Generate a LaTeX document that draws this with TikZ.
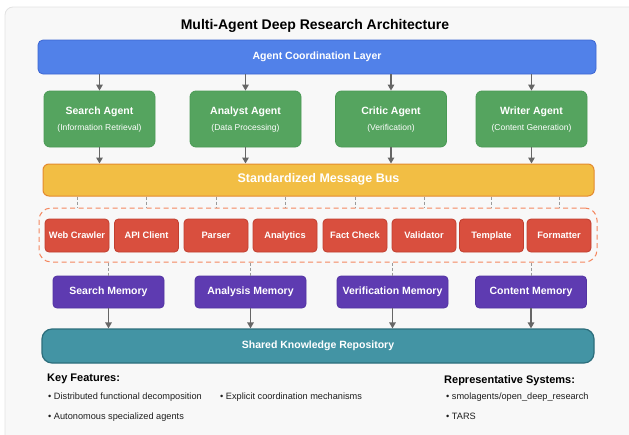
\documentclass[tikz,border=0pt]{standalone}
\usepackage{fontspec}
\setmainfont{Liberation Sans}
\usetikzlibrary{arrows.meta}

\definecolor{panelbg}{HTML}{F8F8F8}
\definecolor{panelline}{HTML}{E2E2E2}
\definecolor{cBlue}{HTML}{5181E9}
\definecolor{cBlueD}{HTML}{3C66D2}
\definecolor{cGreen}{HTML}{55A45F}
\definecolor{cGreenD}{HTML}{4A9A55}
\definecolor{cYellow}{HTML}{F2BE44}
\definecolor{cOrange}{HTML}{E48A2E}
\definecolor{cRed}{HTML}{D94F3E}
\definecolor{cRedD}{HTML}{C13F2F}
\definecolor{cSalmon}{HTML}{F4875F}
\definecolor{cPurple}{HTML}{5E3BB1}
\definecolor{cPurpleD}{HTML}{5233A2}
\definecolor{cTeal}{HTML}{4394A4}
\definecolor{cTealD}{HTML}{2C6E7C}
\definecolor{cArrow}{HTML}{666666}
\definecolor{cLink}{HTML}{9A9A9A}
\definecolor{cText}{HTML}{1E1E1E}

\newcommand{\fsz}[1]{\fontsize{#1}{#1}\selectfont}

\begin{document}
\begin{tikzpicture}[x=1pt,y=-1pt,
  box/.style={draw, line width=0.8pt, inner sep=0pt, text=white,
    text height=0.72em, text depth=0.2em, font=\bfseries\fsz{10.5}},
  coordbox/.style={box, fill=cBlue, draw=cBlueD, minimum width=558pt,
    minimum height=34pt, rounded corners=5pt},
  agentbox/.style={box, fill=cGreen, draw=cGreenD, minimum width=111pt,
    minimum height=56pt, rounded corners=6pt},
  agenttitle/.style={inner sep=0pt, text=white, text height=0.72em,
    text depth=0.2em, font=\bfseries\fsz{10.5}},
  agentsub/.style={inner sep=0pt, text=white, text height=0.72em,
    text depth=0.2em, font=\fsz{8.5}},
  busbox/.style={box, fill=cYellow, draw=cOrange, line width=1pt,
    minimum width=551pt, minimum height=32pt, rounded corners=6pt,
    font=\bfseries\fsz{12.5}},
  groupbox/.style={draw=cSalmon, line width=1pt, dash pattern=on 5pt off 3.5pt,
    minimum width=558pt, minimum height=54pt, rounded corners=12pt, inner sep=0pt},
  toolbox/.style={box, fill=cRed, draw=cRedD, minimum width=64pt,
    minimum height=33pt, rounded corners=4pt, font=\bfseries\fsz{9.3}},
  membox/.style={box, fill=cPurple, draw=cPurpleD, minimum width=111pt,
    minimum height=32pt, rounded corners=4pt},
  repobox/.style={box, fill=cTeal, draw=cTealD, line width=1.2pt,
    minimum width=552pt, minimum height=34pt, rounded corners=10pt},
  arr/.style={draw=cArrow, line width=1.4pt,
    -{Triangle[length=6pt,width=6.5pt]}},
  link/.style={draw=cLink, line width=0.7pt, dash pattern=on 3pt off 2pt},
  heading/.style={inner sep=0pt, anchor=west, text=black, font=\bfseries\fsz{11}},
  bullet/.style={inner sep=0pt, anchor=west, text=cText, text height=0.72em,
    text depth=0.2em, font=\fsz{9.2}}]

\useasboundingbox (0,0) rectangle (629,434);
\clip (0,0) rectangle (629,434);

% background panel
\draw[fill=panelbg, draw=panelline, line width=0.8pt, rounded corners=8pt]
  (5,7) rectangle (660,470);

% title
\node[inner sep=0pt, font=\bfseries\fsz{14}] (title) at (315,26)
  {Multi-Agent Deep Research Architecture};

% coordination layer
\node[coordbox] (coord) at (317,57) {Agent Coordination Layer};

% agents
\foreach \n/\x/\t/\s in {a1/99.5/Search Agent/(Information Retrieval),
                         a2/245.5/Analyst Agent/(Data Processing),
                         a3/391/Critic Agent/(Verification),
                         a4/531.5/Writer Agent/(Content Generation)} {
  \node[agentbox] (\n) at (\x,119) {};
  \node[agenttitle] (\n t) at (\x,111.5) {\t};
  \node[agentsub] (\n s) at (\x,127.5) {\s};
}

% message bus
\node[busbox] (bus) at (318.5,180) {Standardized Message Bus};

\foreach \n in {a1,a2,a3,a4} {
  \draw[arr] (coord.south -| \n) -- (\n.north);
  \draw[arr] (\n.south) -- (bus.north -| \n);
}

% tool group
\node[groupbox] (grp) at (318,235) {};
\foreach \n/\x/\t in {t1/77/Web Crawler, t2/146.5/API Client, t3/216/Parser,
                      t4/285/Analytics, t5/355/Fact Check, t6/424/Validator,
                      t7/491.5/Template, t8/559/Formatter} {
  \node[toolbox] (\n) at (\x,235.5) {\t};
  \draw[link] (bus.south -| \n) -- (grp.north -| \n);
}

% memories
\node[membox] (m1) at (108.5,292) {Search Memory};
\node[membox] (m2) at (250.5,292) {Analysis Memory};
\node[membox] (m3) at (392.5,292) {Verification Memory};
\node[membox] (m4) at (531,292) {Content Memory};

% shared repository
\node[repobox] (repo) at (318,346) {Shared Knowledge Repository};

\foreach \n in {m1,m2,m3,m4} {
  \draw[link] (grp.south -| \n) -- (\n.north);
  \draw[arr] (\n.south) -- (repo.north -| \n);
}

% notes
\node[heading] (kf) at (47,379) {Key Features:};
\node[bullet] (kf1) at (48,397) {• Distributed functional decomposition};
\node[bullet] (kf2) at (220,397) {• Explicit coordination mechanisms};
\node[bullet] (kf3) at (48,417) {• Autonomous specialized agents};
\node[heading] (rs) at (444,381) {Representative Systems:};
\node[bullet] (rs1) at (446,397) {• smolagents/open\_deep\_research};
\node[bullet] (rs2) at (446,417) {• TARS};
\end{tikzpicture}
\end{document}
